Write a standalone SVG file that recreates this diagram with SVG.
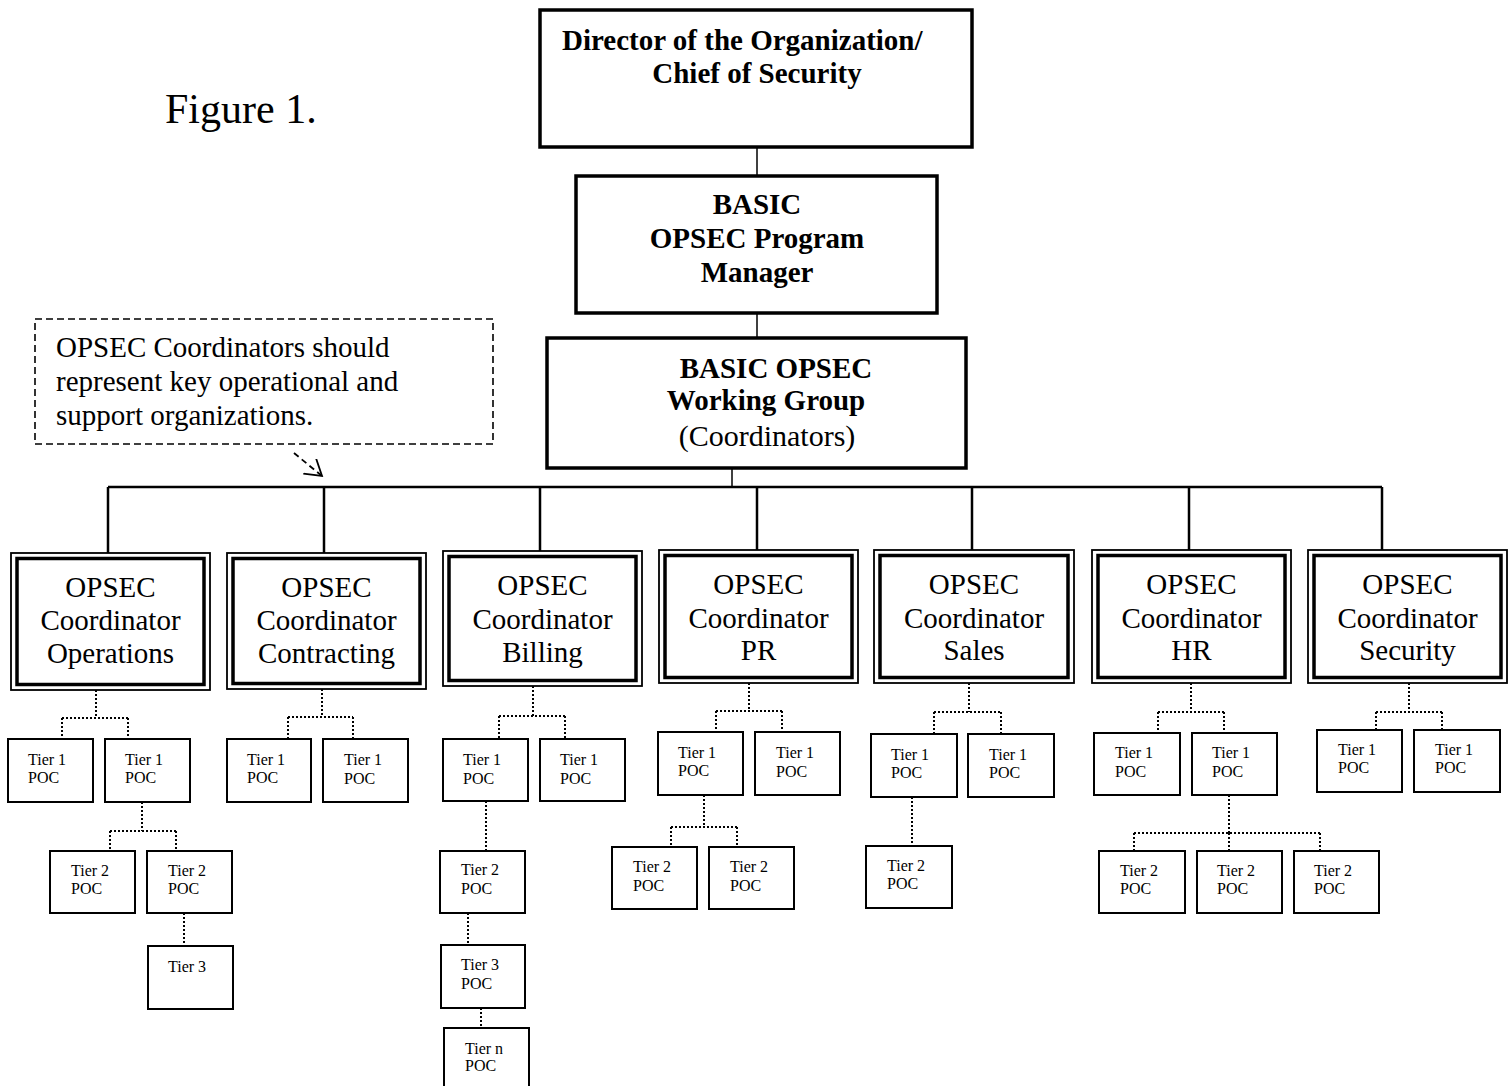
<svg xmlns="http://www.w3.org/2000/svg" width="1510" height="1086" viewBox="0 0 1510 1086">
<style>
text{font-family:"Liberation Serif","Times New Roman",serif;fill:#000}
.top{fill:#fff;stroke:#000;stroke-width:3.5}
.tb{font-weight:bold;font-size:29px;text-anchor:middle}
.co{fill:#fff;stroke:#000;stroke-width:1.8}
.ci{fill:none;stroke:#000;stroke-width:3.5}
.ct{font-size:29px;text-anchor:middle}
.tier{fill:#fff;stroke:#000;stroke-width:2}
.tt{font-size:16px}
.solid{stroke:#000;stroke-width:1.5;fill:none}
.bus{stroke:#000;stroke-width:2.5;fill:none}
.dot{stroke:#000;stroke-width:2;stroke-dasharray:2 2;fill:none}
</style>
<defs>
<marker id="arr" markerUnits="userSpaceOnUse" markerWidth="20" markerHeight="22" refX="16" refY="10" orient="auto" viewBox="0 0 20 22">
<path d="M0,0 L16,10 L0,20" fill="none" stroke="#000" stroke-width="1.8"/>
</marker>
</defs>
<rect width="1510" height="1086" fill="#fff"/>

<text x="165" y="123" font-size="42">Figure 1.</text>

<g id="connectors">
<line class="solid" x1="757" y1="147" x2="757" y2="176"/>
<line class="solid" x1="757" y1="313" x2="757" y2="338"/>
<line class="solid" x1="732" y1="463" x2="732" y2="487"/>
<line class="bus" x1="108" y1="487" x2="1382" y2="487"/>
<path class="bus" d="M108,487V558 M324,487V558 M540,487V556 M757,487V555 M972,487V555 M1189,487V555 M1382,487V555"/>
<!-- note arrow -->
<path d="M294,453 L322,476" fill="none" stroke="#000" stroke-width="1.8" stroke-dasharray="6 4" marker-end="url(#arr)"/>
<!-- Operations -->
<path class="dot" d="M96,690V718 M62,718H128 M62,718V738 M128,718V738"/>
<path class="dot" d="M142,802V831 M110,831H176 M110,831V850 M176,831V850"/>
<path class="dot" d="M184,913V946"/>
<!-- Contracting -->
<path class="dot" d="M322,689V717 M288,717H353 M288,717V738 M353,717V738"/>
<!-- Billing -->
<path class="dot" d="M533,686V716 M499,716H565 M499,716V739 M565,716V739"/>
<path class="dot" d="M486,801V850"/>
<path class="dot" d="M468,913V945"/>
<path class="dot" d="M481,1008V1028"/>
<!-- PR -->
<path class="dot" d="M749,683V711 M716,711H782 M716,711V732 M782,711V732"/>
<path class="dot" d="M704,795V827 M671,827H737 M671,827V847 M737,827V847"/>
<!-- Sales -->
<path class="dot" d="M969,683V712 M934,712H1001 M934,712V734 M1001,712V734"/>
<path class="dot" d="M912,797V846"/>
<!-- HR -->
<path class="dot" d="M1191,683V712 M1158,712H1224 M1158,712V733 M1224,712V733"/>
<path class="dot" d="M1229,795V833 M1134,833H1320 M1134,833V851 M1229,833V851 M1320,833V851"/>
<!-- Security -->
<path class="dot" d="M1409,683V712 M1376,712H1442 M1376,712V730 M1442,712V730"/>
</g>

<g id="note">
<rect x="35" y="319" width="458" height="125" fill="none" stroke="#000" stroke-width="1.6" stroke-dasharray="7 4"/>
<text x="56" y="357" font-size="29">OPSEC Coordinators should</text>
<text x="56" y="391" font-size="29">represent key operational and</text>
<text x="56" y="425" font-size="29">support organizations.</text>
</g>

<g id="director">
<rect class="top" x="540" y="10" width="432" height="137"/>
<text class="tb" x="562" y="50" style="text-anchor:start">Director of the Organization/</text>
<text class="tb" x="757" y="83">Chief of Security</text>
</g>
<g id="program-manager">
<rect class="top" x="576" y="176" width="361" height="137"/>
<text class="tb" x="757" y="214">BASIC</text>
<text class="tb" x="757" y="248">OPSEC Program</text>
<text class="tb" x="757" y="282">Manager</text>
</g>
<g id="working-group">
<rect class="top" x="547" y="338" width="419" height="130"/>
<text class="tb" x="776" y="378">BASIC OPSEC</text>
<text class="tb" x="766" y="410">Working Group</text>
<text x="767" y="446" font-size="30" text-anchor="middle">(Coordinators)</text>
</g>

<g id="coord-operations">
<rect class="co" x="11" y="553" width="199" height="137"/>
<rect class="ci" x="17" y="558.5" width="187" height="126"/>
<text class="ct" x="110.5" y="597">OPSEC</text>
<text class="ct" x="110.5" y="630">Coordinator</text>
<text class="ct" x="110.5" y="663">Operations</text>
</g>
<g id="coord-contracting">
<rect class="co" x="227" y="553" width="199" height="136"/>
<rect class="ci" x="233" y="558.5" width="187" height="125"/>
<text class="ct" x="326.5" y="597">OPSEC</text>
<text class="ct" x="326.5" y="630">Coordinator</text>
<text class="ct" x="326.5" y="663">Contracting</text>
</g>
<g id="coord-billing">
<rect class="co" x="443" y="551" width="199" height="135"/>
<rect class="ci" x="449" y="556.5" width="187" height="124"/>
<text class="ct" x="542.5" y="595">OPSEC</text>
<text class="ct" x="542.5" y="629">Coordinator</text>
<text class="ct" x="542.5" y="662">Billing</text>
</g>
<g id="coord-pr">
<rect class="co" x="659" y="550" width="199" height="133"/>
<rect class="ci" x="665" y="555.5" width="187" height="122"/>
<text class="ct" x="758.5" y="594">OPSEC</text>
<text class="ct" x="758.5" y="628">Coordinator</text>
<text class="ct" x="758.5" y="660">PR</text>
</g>
<g id="coord-sales">
<rect class="co" x="874" y="550" width="200" height="133"/>
<rect class="ci" x="880" y="555.5" width="188" height="122"/>
<text class="ct" x="974" y="594">OPSEC</text>
<text class="ct" x="974" y="628">Coordinator</text>
<text class="ct" x="974" y="660">Sales</text>
</g>
<g id="coord-hr">
<rect class="co" x="1092" y="550" width="199" height="133"/>
<rect class="ci" x="1098" y="555.5" width="187" height="122"/>
<text class="ct" x="1191.5" y="594">OPSEC</text>
<text class="ct" x="1191.5" y="628">Coordinator</text>
<text class="ct" x="1191.5" y="660">HR</text>
</g>
<g id="coord-security">
<rect class="co" x="1308" y="550" width="199" height="133"/>
<rect class="ci" x="1314" y="555.5" width="187" height="122"/>
<text class="ct" x="1407.5" y="594">OPSEC</text>
<text class="ct" x="1407.5" y="628">Coordinator</text>
<text class="ct" x="1407.5" y="660">Security</text>
</g>

<!-- Operations tiers -->
<g id="ops-t1a"><rect class="tier" x="8" y="739" width="85" height="63"/><text class="tt" x="28" y="765">Tier 1</text><text class="tt" x="28" y="783">POC</text></g>
<g id="ops-t1b"><rect class="tier" x="105" y="739" width="85" height="63"/><text class="tt" x="125" y="765">Tier 1</text><text class="tt" x="125" y="783">POC</text></g>
<g id="ops-t2a"><rect class="tier" x="50" y="851" width="85" height="62"/><text class="tt" x="71" y="876">Tier 2</text><text class="tt" x="71" y="894">POC</text></g>
<g id="ops-t2b"><rect class="tier" x="147" y="851" width="85" height="62"/><text class="tt" x="168" y="876">Tier 2</text><text class="tt" x="168" y="894">POC</text></g>
<g id="ops-t3"><rect class="tier" x="148" y="946" width="85" height="63"/><text class="tt" x="168" y="972">Tier 3</text></g>
<!-- Contracting tiers -->
<g id="con-t1a"><rect class="tier" x="227" y="739" width="84" height="63"/><text class="tt" x="247" y="765">Tier 1</text><text class="tt" x="247" y="783">POC</text></g>
<g id="con-t1b"><rect class="tier" x="323" y="739" width="85" height="63"/><text class="tt" x="344" y="765">Tier 1</text><text class="tt" x="344" y="784">POC</text></g>
<!-- Billing tiers -->
<g id="bil-t1a"><rect class="tier" x="443" y="739" width="85" height="62"/><text class="tt" x="463" y="765">Tier 1</text><text class="tt" x="463" y="784">POC</text></g>
<g id="bil-t1b"><rect class="tier" x="540" y="739" width="85" height="62"/><text class="tt" x="560" y="765">Tier 1</text><text class="tt" x="560" y="784">POC</text></g>
<g id="bil-t2"><rect class="tier" x="440" y="851" width="85" height="62"/><text class="tt" x="461" y="875">Tier 2</text><text class="tt" x="461" y="894">POC</text></g>
<g id="bil-t3"><rect class="tier" x="441" y="945" width="84" height="63"/><text class="tt" x="461" y="970">Tier 3</text><text class="tt" x="461" y="989">POC</text></g>
<g id="bil-tn"><rect class="tier" x="444" y="1028" width="85" height="62"/><text class="tt" x="465" y="1054">Tier n</text><text class="tt" x="465" y="1071">POC</text></g>
<!-- PR tiers -->
<g id="pr-t1a"><rect class="tier" x="658" y="732" width="85" height="63"/><text class="tt" x="678" y="758">Tier 1</text><text class="tt" x="678" y="776">POC</text></g>
<g id="pr-t1b"><rect class="tier" x="755" y="732" width="85" height="63"/><text class="tt" x="776" y="758">Tier 1</text><text class="tt" x="776" y="777">POC</text></g>
<g id="pr-t2a"><rect class="tier" x="612" y="847" width="85" height="62"/><text class="tt" x="633" y="872">Tier 2</text><text class="tt" x="633" y="891">POC</text></g>
<g id="pr-t2b"><rect class="tier" x="709" y="847" width="85" height="62"/><text class="tt" x="730" y="872">Tier 2</text><text class="tt" x="730" y="891">POC</text></g>
<!-- Sales tiers -->
<g id="sal-t1a"><rect class="tier" x="871" y="734" width="86" height="63"/><text class="tt" x="891" y="760">Tier 1</text><text class="tt" x="891" y="778">POC</text></g>
<g id="sal-t1b"><rect class="tier" x="968" y="734" width="86" height="63"/><text class="tt" x="989" y="760">Tier 1</text><text class="tt" x="989" y="778">POC</text></g>
<g id="sal-t2"><rect class="tier" x="866" y="846" width="86" height="62"/><text class="tt" x="887" y="871">Tier 2</text><text class="tt" x="887" y="889">POC</text></g>
<!-- HR tiers -->
<g id="hr-t1a"><rect class="tier" x="1094" y="733" width="86" height="62"/><text class="tt" x="1115" y="758">Tier 1</text><text class="tt" x="1115" y="777">POC</text></g>
<g id="hr-t1b"><rect class="tier" x="1192" y="733" width="85" height="62"/><text class="tt" x="1212" y="758">Tier 1</text><text class="tt" x="1212" y="777">POC</text></g>
<g id="hr-t2a"><rect class="tier" x="1099" y="851" width="86" height="62"/><text class="tt" x="1120" y="876">Tier 2</text><text class="tt" x="1120" y="894">POC</text></g>
<g id="hr-t2b"><rect class="tier" x="1197" y="851" width="85" height="62"/><text class="tt" x="1217" y="876">Tier 2</text><text class="tt" x="1217" y="894">POC</text></g>
<g id="hr-t2c"><rect class="tier" x="1294" y="851" width="85" height="62"/><text class="tt" x="1314" y="876">Tier 2</text><text class="tt" x="1314" y="894">POC</text></g>
<!-- Security tiers -->
<g id="sec-t1a"><rect class="tier" x="1317" y="730" width="85" height="62"/><text class="tt" x="1338" y="755">Tier 1</text><text class="tt" x="1338" y="773">POC</text></g>
<g id="sec-t1b"><rect class="tier" x="1414" y="730" width="86" height="62"/><text class="tt" x="1435" y="755">Tier 1</text><text class="tt" x="1435" y="773">POC</text></g>
</svg>
